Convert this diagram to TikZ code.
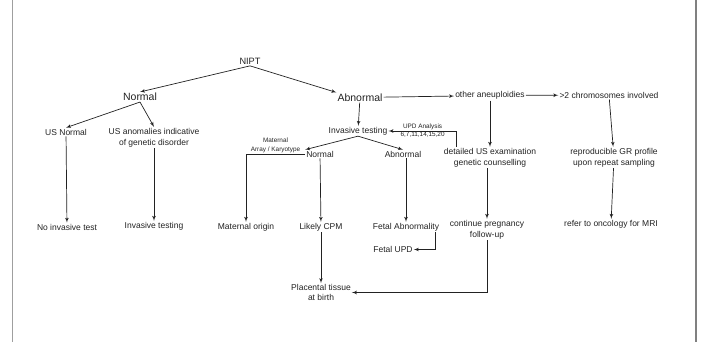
\documentclass[tikz,border=0pt]{standalone}
\usepackage{fontspec}
\setmainfont{Liberation Sans}
\usepackage{tikz}
\usetikzlibrary{arrows,positioning,calc}
\definecolor{inkgray}{HTML}{222222}
\tikzset{
txt/.style = {font=\fontsize{8.5}{11}\selectfont, align=center, inner sep=1pt, text=inkgray},
big/.style = {txt, font=\fontsize{10.5}{12}\selectfont},
lbl/.style = {font=\fontsize{6.4}{7.5}\selectfont, align=center, inner sep=1pt, text=inkgray},
link/.style = {draw=inkgray, line width=0.7pt},
frame/.style = {line width=1.4pt}
}
\begin{document}
\begin{tikzpicture}[x=1pt, y=-1pt, auto, >=latex']
    \useasboundingbox (0,0) rectangle (705,342);
    \draw [frame, draw=gray!75] (12.7,0) -- (12.7,342);
    \draw [frame, draw=gray] (696,0) -- (696,342);
    % top levels
    \node [txt, font=\fontsize{9.2}{11}\selectfont] (nipt) at (250,61.5) {NIPT};
    \node [big] (norm) at (140,97) {Normal};
    \node [big] (abn) at (360,97.5) {Abnormal};
    \node [txt] (usnorm) at (66,132) {US Normal};
    \node [txt] (usanom) at (154,137.5) {US anomalies indicative\\of genetic disorder};
    \node [txt] (noinv) at (67,227) {No invasive test};
    \node [txt] (invtest1) at (154,226) {Invasive testing};
    \node [txt] (invtest2) at (358,131) {Invasive testing};
    \node [txt] (norm2) at (320,154) {Normal};
    \node [txt] (abn2) at (403,154) {Abnormal};
    \node [txt] (matorig) at (246,227) {Maternal origin};
    \node [txt] (cpm) at (321,227) {Likely CPM};
    \node [txt] (fetabn) at (406,227) {Fetal Abnormality};
    \node [txt] (fetupd) at (393,249.5) {Fetal UPD};
    \node [txt, font=\fontsize{8.5}{10}\selectfont] (plac) at (321,292.5) {Placental tissue\\at birth};
    % right branch
    \node [txt] (other) at (490,95.5) {other aneuploidies};
    \node [txt] (chrom) at (609,95) {>2 chromosomes involved};
    \node [txt] (detail) at (490,157.5) {detailed US examination\\genetic counselling};
    \node [txt] (repro) at (614,157.5) {reproducible GR profile\\upon repeat sampling};
    \node [txt] (cont) at (487,229.5) {continue pregnancy\\follow-up};
    \node [txt] (oncol) at (611,224) {refer to oncology for MRI};
    \draw [link,->] (nipt.south) -- (norm.north);
    \draw [link,->] (nipt.south) -- (abn.north west);
    \draw [link,->] (norm.south) -- (usnorm.north);
    \draw [link,->] (norm.south) -- (usanom.north);
    \draw [link,->] (usnorm) -- (noinv);
    \draw [link,->] (usanom.south) -- (invtest1.north);
    \draw [link,->] (abn) -- (invtest2);
    \draw [link,->] (abn) -- (other);
    \draw [link,->] (other) -- (chrom);
    \draw [link,->] (other) -- (detail);
    \draw [link,->] (chrom) -- (repro);
    \draw [link,->] (repro) -- (oncol);
    \draw [link,->] (detail.south -| cont) -- (cont);
    \draw [link,->] ([xshift=14pt]detail.north west) |- node[lbl, pos=0.75, above]{UPD Analysis} node[lbl, pos=0.75, below]{6,7,11,14,15,20} (invtest2.east);
    \draw [link,->] (invtest2.south) -- (norm2.north west);
    \draw [link,->] (invtest2.south) -- (abn2.north);
    \draw [link,->] (norm2.west) -| node[lbl, pos=0.25, above]{Maternal\\[1.5pt]Array / Karyotype} (matorig.north);
    \draw [link,->] (norm2) -- (cpm);
    \draw [link,->] (abn2.south -| fetabn) -- (fetabn);
    \draw [link,->] ([xshift=-5pt]fetabn.south east) |- (fetupd.east);
    \draw [link,->] (cpm) -- (plac);
    \draw [link,->] (cont.south) |- (plac.east);
\end{tikzpicture}
\end{document}
